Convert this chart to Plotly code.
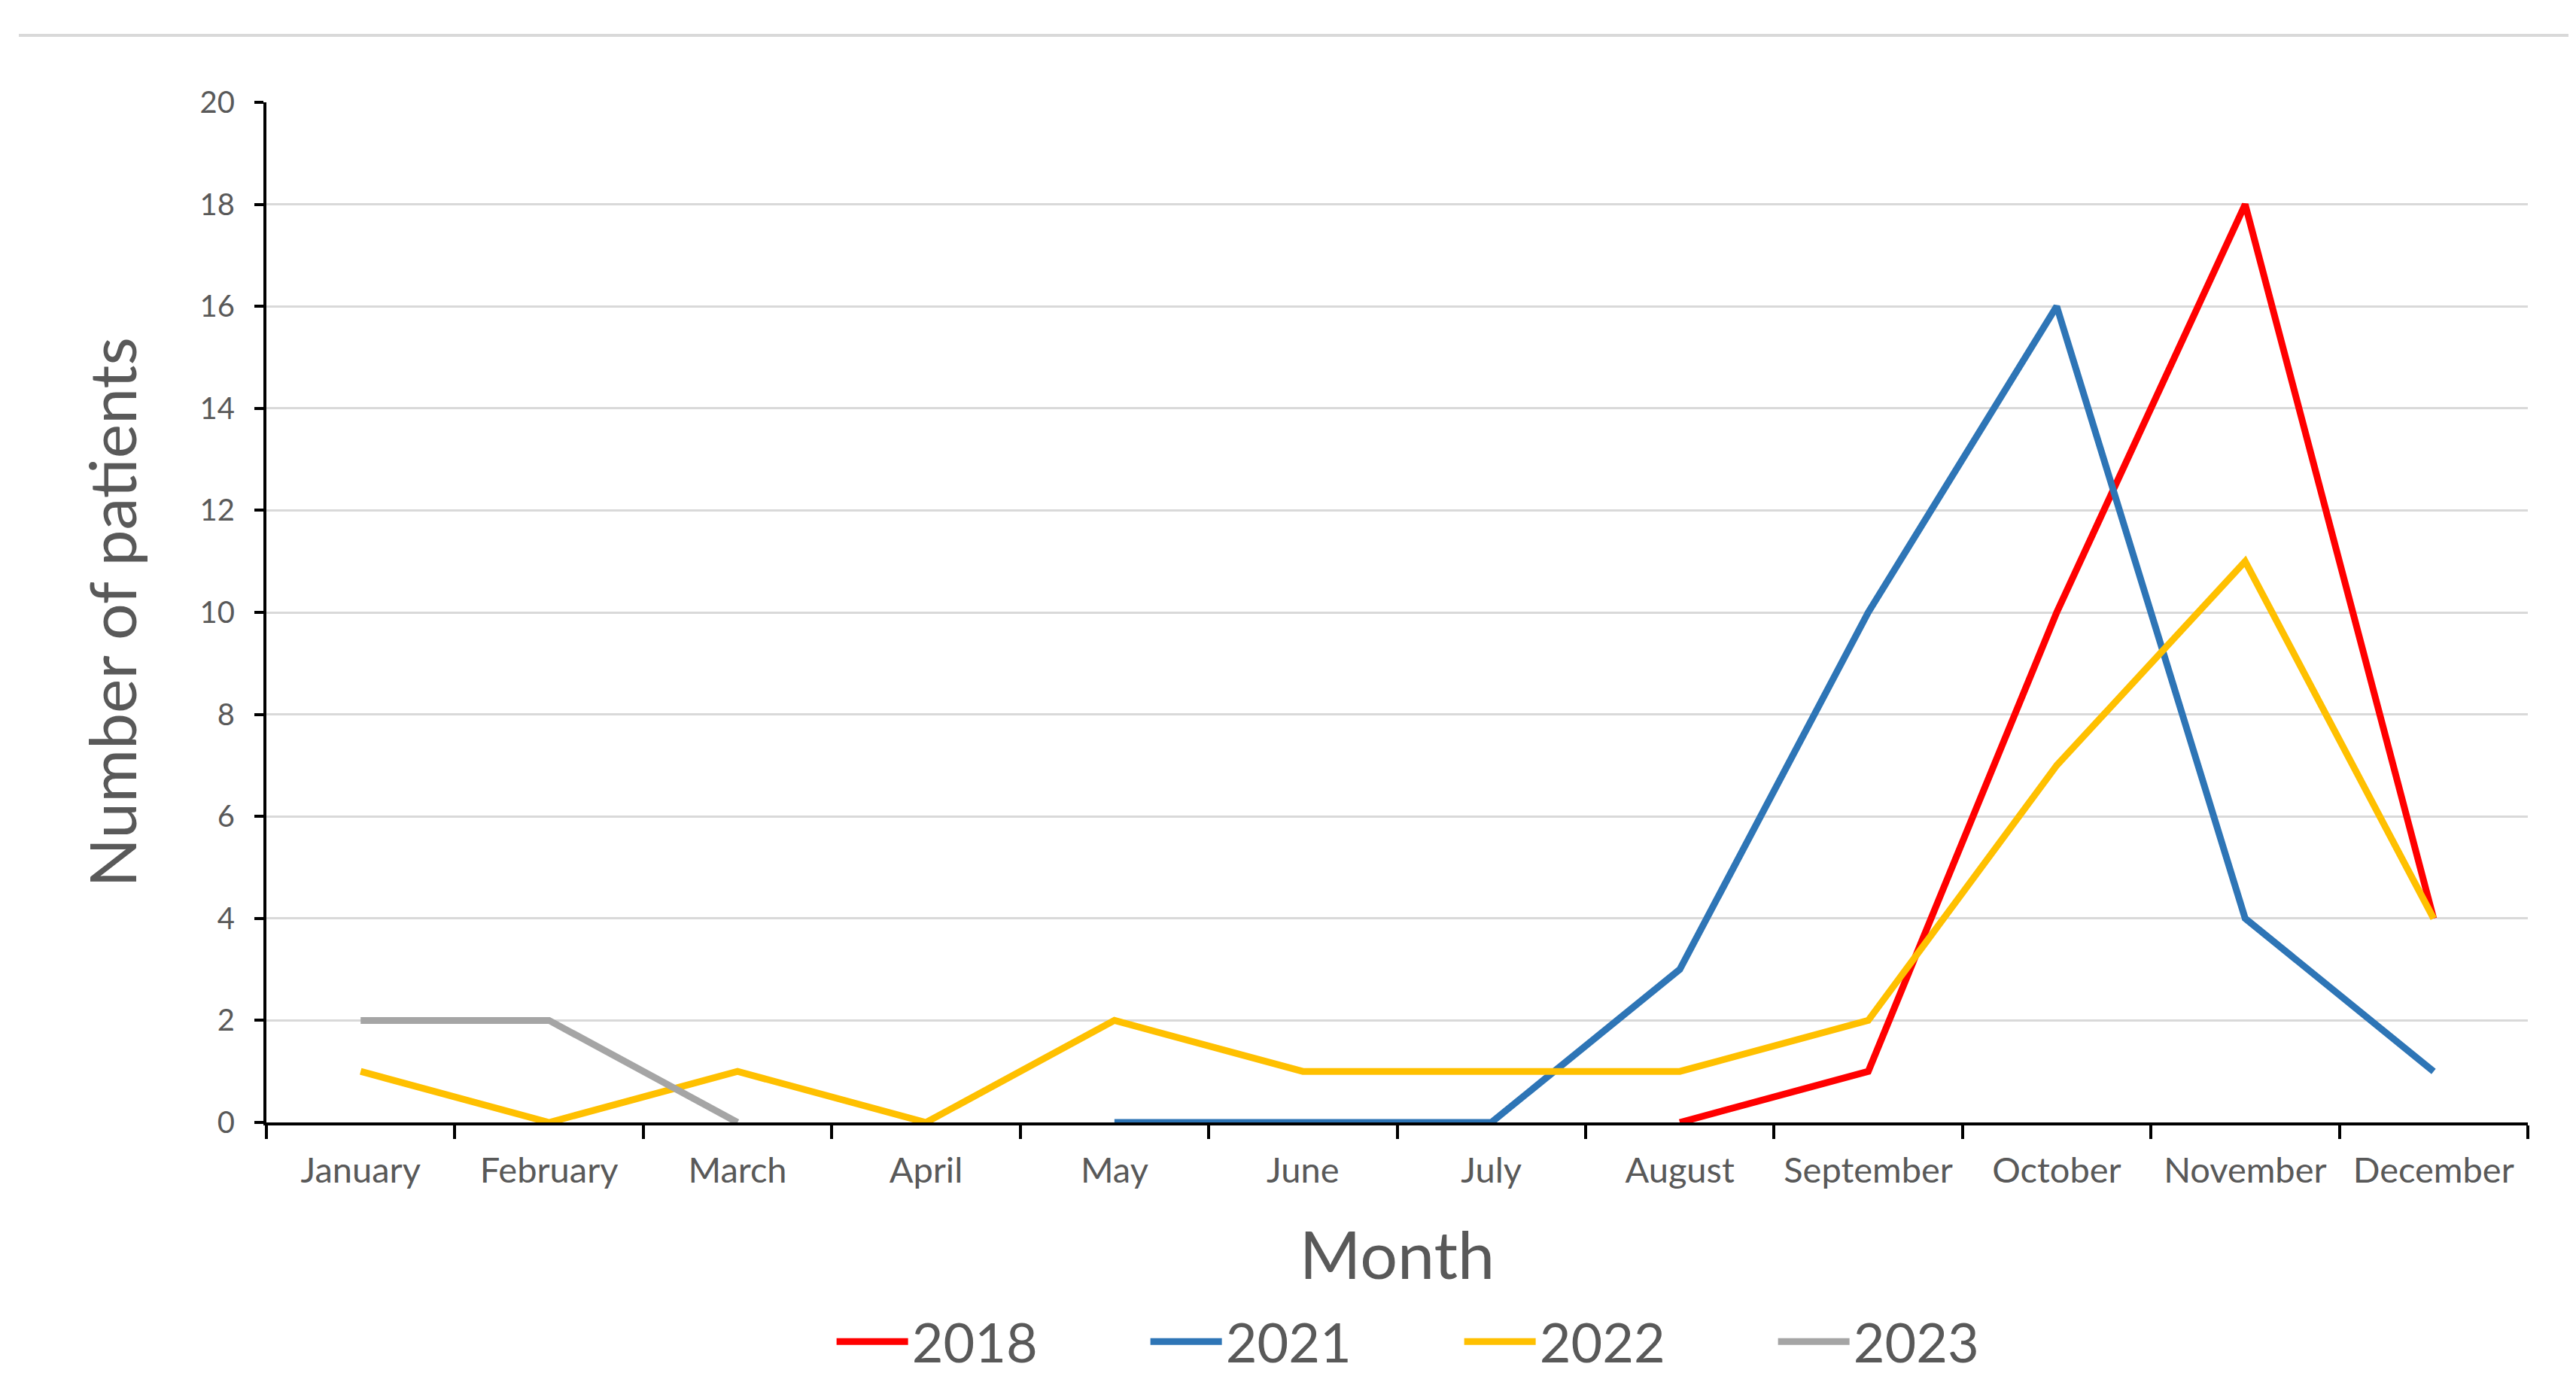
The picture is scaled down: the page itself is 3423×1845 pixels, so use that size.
import plotly.graph_objects as go

months = ["January", "February", "March", "April", "May", "June", "July",
          "August", "September", "October", "November", "December"]

months_2018 = ["August", "September", "October", "November", "December"]
vals_2018 = [0, 1, 10, 18, 4]

months_2021 = ["May", "June", "July", "August", "September", "October", "November", "December"]
vals_2021 = [0, 0, 0, 3, 10, 16, 4, 1]

months_2022 = months
vals_2022 = [1, 0, 1, 0, 2, 1, 1, 1, 2, 7, 11, 4]

months_2023 = ["January", "February", "March"]
vals_2023 = [2, 2, 0]

y_ticks = [0, 2, 4, 6, 8, 10, 12, 14, 16, 18, 20]

FONT = "Lato"
GREY_TXT = "#595959"

series = [
    ("2018", months_2018, vals_2018, "#FF0000"),
    ("2021", months_2021, vals_2021, "#2E75B6"),
    ("2022", months_2022, vals_2022, "#FFC000"),
    ("2023", months_2023, vals_2023, "#A5A5A5"),
]

fig = go.Figure()
for name, xs, ys, col in series:
    fig.add_trace(go.Scatter(x=xs, y=ys, mode="lines", name=name,
                             line=dict(color=col, width=9)))

W, H = 3423, 1845
L, R, T, B = 346, 72, 128, 361

fig.update_layout(
    width=W, height=H,
    margin=dict(l=L, r=R, t=T, b=B, autoexpand=False),
    paper_bgcolor="white", plot_bgcolor="white",
    font=dict(family=FONT, color=GREY_TXT),
    showlegend=True,
    legend=dict(orientation="h", x=0.528, xanchor="center", y=-0.215, yanchor="middle",
                font=dict(size=72, color=GREY_TXT, family=FONT),
                entrywidth=307, entrywidthmode="pixels", itemwidth=95,
                bgcolor="rgba(0,0,0,0)"),
    xaxis=dict(
        type="category", categoryorder="array", categoryarray=months,
        range=[-0.5, 11.5], tickson="boundaries",
        showline=True, linecolor="black", linewidth=4,
        ticks="outside", ticklen=18, tickwidth=4, tickcolor="black",
        showgrid=False, zeroline=False,
        tickfont=dict(size=47, color=GREY_TXT, family=FONT),
        ticklabelstandoff=20,
        title=dict(text="Month", font=dict(size=88, color=GREY_TXT, family=FONT), standoff=58),
    ),
    yaxis=dict(
        range=[0, 20], tickvals=y_ticks,
        showline=True, linecolor="black", linewidth=4,
        ticks="outside", ticklen=12, tickwidth=4, tickcolor="black",
        showgrid=True, gridcolor="#D9D9D9", gridwidth=3,
        zeroline=False,
        tickfont=dict(size=40, color=GREY_TXT, family=FONT),
        ticklabelstandoff=18,
        title=dict(text="Number of patients", font=dict(size=86, color=GREY_TXT, family=FONT), standoff=56),
    ),
)

# light frame line at the top of the chart area (as in the reference)
fig.add_shape(type="line", xref="paper", yref="paper",
              x0=(17 - L) / (W - L - R), x1=(3405 - L) / (W - L - R),
              y0=1 + (T - 39) / (H - T - B), y1=1 + (T - 39) / (H - T - B),
              line=dict(color="#D9D9D9", width=4))

fig.write_html("out.html")
